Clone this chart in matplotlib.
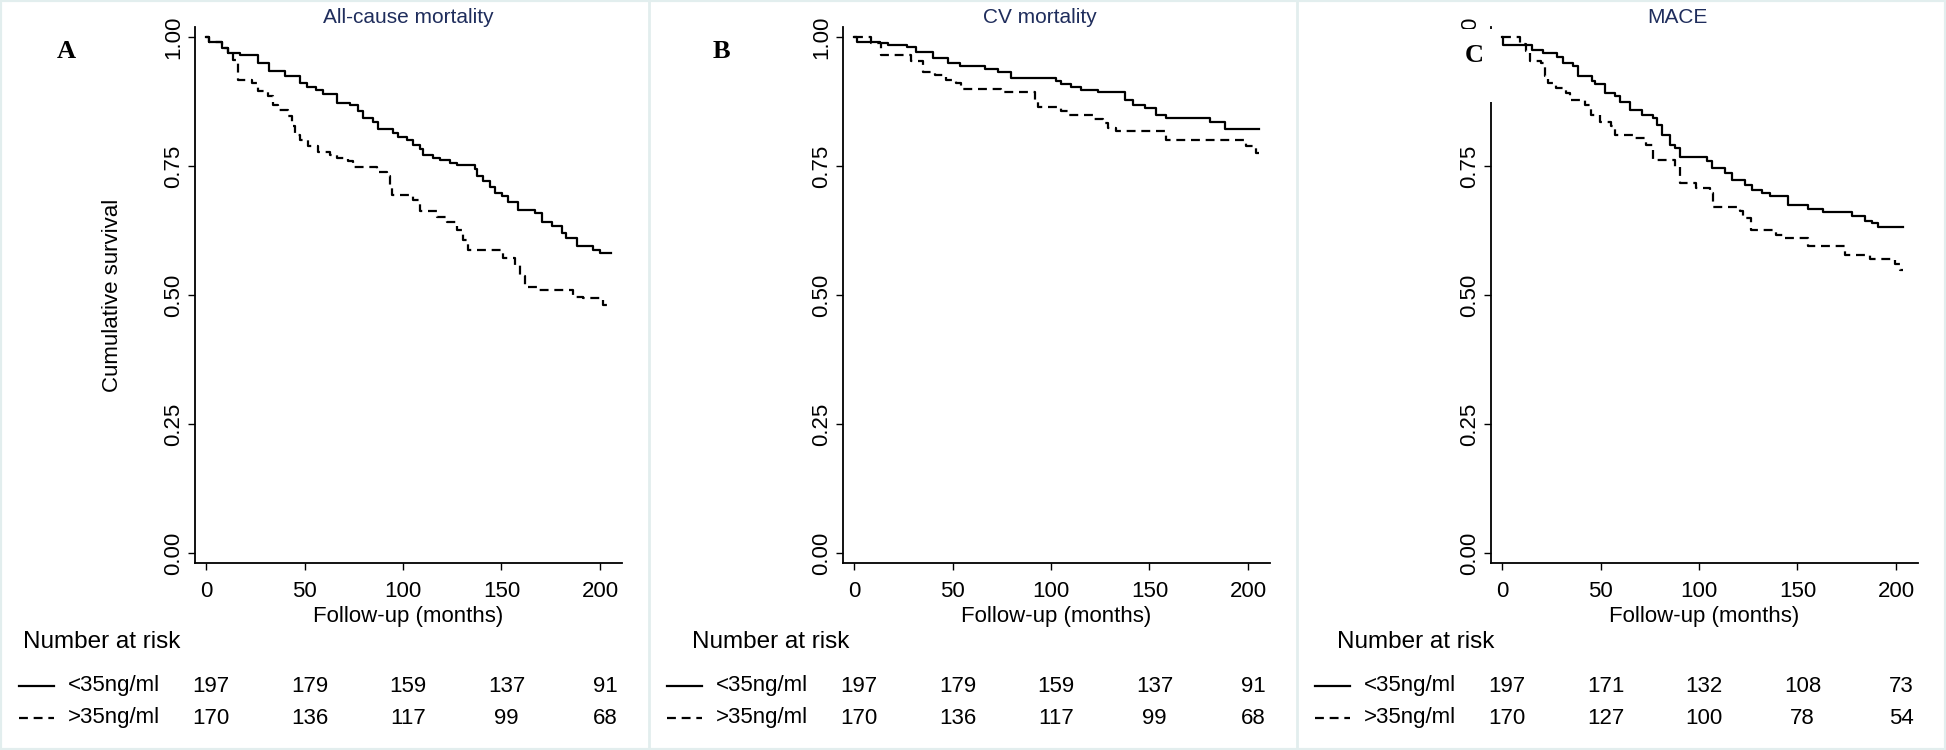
"""
Kaplan-Meier 3 panel figure (All-cause / CV mortality / MACE) with number-at-risk table
"""

import matplotlib.pyplot as plt
from matplotlib.lines import Line2D
from matplotlib.patches import Rectangle

plt.rcParams['font.family'] = ['Liberation Sans', 'DejaVu Sans']

# ----- data -----
TITLES = ["All-cause mortality", "CV mortality", "MACE"]
LETTERS = ["A", "B", "C"]
GROUPS = ["<35ng/ml", ">35ng/ml"]
X_TICKS = [0, 50, 100, 150, 200]
Y_TICKS = [0.0, 0.25, 0.5, 0.75, 1.0]
Y_TICK_LABELS = ["0.00", "0.25", "0.50", "0.75", "1.00"]

A_LOW_T = [0, 1.7, 8, 11.3, 17, 26.5, 32, 40, 47.7, 51.4, 56, 59.6, 66.3, 73, 77.3,
           79.9, 85, 87.5, 95, 97.6, 101.9, 105.2, 108.6, 110.3, 115.4, 118.8, 123.9,
           127.2, 136.5, 137.4, 140.8, 144.2, 146.7, 150.1, 153.5, 158.5, 167, 170.4,
           175.5, 180.5, 183, 188.2, 196.6, 200, 205.4]
A_LOW_S = [1.0, .990, .979, .969, .966, .950, .935, .924, .911, .904, .898, .889, .873,
           .869, .856, .843, .836, .822, .814, .807, .801, .791, .783, .772, .766, .761,
           .755, .752, .744, .730, .720, .710, .697, .691, .681, .665, .658, .642, .633,
           .620, .610, .594, .587, .581, .581]
A_HIGH_T = [0, 1.7, 8, 11.3, 13.9, 16.4, 23.2, 26.6, 31.6, 34.2, 36.7, 41.8, 43.5, 45.2,
            47.7, 51.9, 57, 62.9, 66.3, 72.2, 74.8, 86.6, 91.7, 93.4, 94.2, 105.2, 108.6,
            117.1, 122.2, 127.2, 130.6, 133.2, 150.9, 156.9, 159.4, 162, 167.9, 186.5,
            191.5, 201.7, 203.4]
A_HIGH_S = [1.0, .990, .979, .969, .955, .917, .911, .895, .885, .869, .859, .846, .827,
            .810, .801, .788, .778, .772, .765, .759, .749, .739, .730, .710, .694, .684,
            .662, .652, .642, .626, .607, .587, .571, .558, .536, .516, .510, .497, .494,
            .481, .481]

B_LOW_T = [0, 1.7, 13, 17.3, 27.1, 31.6, 40.1, 47.7, 53.6, 66.3, 73.1, 79.9, 102.7, 105.2,
           110.3, 115.4, 123.9, 137.4, 141.6, 147.5, 153.5, 158.5, 180.5, 188.2, 205.4]
B_LOW_S = [1.0, .990, .988, .985, .981, .970, .959, .950, .944, .938, .933, .920, .914,
           .908, .903, .898, .893, .877, .869, .862, .848, .843, .835, .821, .821]
B_HIGH_T = [0, 8.8, 13.9, 29.1, 35, 41, 46.9, 52, 54.5, 74.8, 91.7, 93.4, 105.2, 108.6,
            121.3, 126.4, 128.9, 133.2, 158.5, 199.2, 204.2, 205.4]
B_HIGH_S = [1.0, .988, .966, .953, .933, .927, .917, .911, .899, .893, .878, .864, .856,
            .849, .841, .833, .823, .817, .801, .788, .775, .775]

C_LOW_T = [0, 0.3, 15.1, 21, 27.8, 30.8, 36.2, 38.7, 45.5, 47.2, 52.2, 57.3, 59.9, 65,
           70.9, 76.8, 78.5, 81.1, 85.3, 87.8, 90.4, 103.9, 106.4, 113.2, 116.6, 123.4,
           126.7, 131.8, 136, 145.3, 155.5, 163.1, 177.5, 184.3, 187.7, 191.1, 203.7]
C_LOW_S = [1.0, .985, .975, .969, .962, .950, .943, .924, .914, .908, .891, .885, .875,
           .859, .849, .843, .830, .810, .791, .785, .768, .759, .746, .736, .722, .713,
           .704, .697, .692, .675, .666, .660, .653, .644, .639, .631, .631]
C_HIGH_T = [0, 9, 12.4, 14.1, 20, 21.7, 23.4, 27.6, 32.7, 34.4, 42, 45.4, 49.6, 55.5,
            57.2, 66.5, 73.3, 76.6, 87.6, 90.2, 98.6, 105.4, 107.1, 120.6, 122.3, 126.5,
            139.2, 142.6, 155.3, 173.9, 186.6, 199.3, 201.9, 203.7]
C_HIGH_S = [1.0, .987, .972, .953, .950, .924, .911, .901, .891, .878, .869, .849, .836,
            .827, .810, .804, .791, .762, .749, .717, .707, .697, .671, .662, .649, .626,
            .616, .610, .595, .578, .569, .561, .549, .549]

RISK_TIMES = [0, 50, 100, 150, 200]
A_RISK_LOW = [197, 179, 159, 137, 91]
A_RISK_HIGH = [170, 136, 117, 99, 68]
B_RISK_LOW = [197, 179, 159, 137, 91]
B_RISK_HIGH = [170, 136, 117, 99, 68]
C_RISK_LOW = [197, 171, 132, 108, 73]
C_RISK_HIGH = [170, 127, 100, 78, 54]

# ----- layout (pixels of the 1946x750 canvas) -----
W, H = 1946, 750
PANEL_LEFT = [195, 843, 1491]
AX_TOP, AX_BOTTOM, AX_W = 27, 563, 427
XLIM = (-5.6, 211.2)
YLIM = (-0.0194, 1.0194)
NAR_DX = [-172, -151, -154]
TITLE_X = [0.5, 0.462, 0.437]
FS = 16
TITLE_COLOR = "#1f2d5c"
FRAME_COLOR = "#e2eeee"
DASH = (0, (4, 2.6))
OUT_PATH = "out.png"


def offset_text(ax, x, y, s, dx, dy, xcoords="axes fraction", fontsize=FS, **kw):
    """axes 기준점에서 pixel offset으로 text 배치"""
    ax.annotate(s, xy=(x, y), xycoords=(xcoords, "axes fraction"),
                xytext=(dx, dy), textcoords="offset pixels",
                fontsize=fontsize, annotation_clip=False, **kw)


def draw_panel(fig, i, curves, risks):
    left = PANEL_LEFT[i]
    ax = fig.add_axes([left / W, (H - AX_BOTTOM) / H, AX_W / W, (AX_BOTTOM - AX_TOP) / H])

    for (t, s), ls in zip(curves, ["-", DASH]):
        ax.step(t, s, where="post", color="black", linewidth=1.6, linestyle=ls)

    ax.set_xlim(*XLIM)
    ax.set_ylim(*YLIM)
    ax.set_xticks(X_TICKS)
    ax.set_yticks(Y_TICKS)
    ax.set_yticklabels(Y_TICK_LABELS)
    for side in ["top", "right"]:
        ax.spines[side].set_visible(False)
    for side in ["left", "bottom"]:
        ax.spines[side].set_linewidth(1.3)
    ax.tick_params(axis="both", direction="out", length=5, width=1, labelsize=FS)
    ax.tick_params(axis="x", pad=8)
    ax.tick_params(axis="y", pad=3, labelrotation=90)
    for lab in ax.get_yticklabels():
        lab.set_va("center")

    ax.set_xlabel("Follow-up (months)", fontsize=FS, labelpad=3)
    if i == 0:
        ax.set_ylabel("Cumulative survival", fontsize=FS, labelpad=29)
    title = ax.set_title(TITLES[i], fontsize=15, color=TITLE_COLOR, pad=2)
    title.set_x(TITLE_X[i])

    # number at risk table
    offset_text(ax, 0, 0, "Number at risk", NAR_DX[i], -79, fontsize=17.5,
                va="center", ha="left")
    for row, (grp, counts, ls) in enumerate(zip(GROUPS, risks, ["-", DASH])):
        dy = -123 - 32 * row
        y_fig = (H - (AX_BOTTOM - dy)) / H
        fig.add_artist(Line2D([(left - 176) / W, (left - 141) / W], [y_fig, y_fig],
                              color="black", linewidth=1.6, linestyle=ls))
        offset_text(ax, 0, 0, grp, -127, dy, va="center", ha="left")
        for t, n in zip(RISK_TIMES, counts):
            offset_text(ax, t, 0, str(n), 5, dy, xcoords="data", va="center", ha="center")

    return ax


def main():
    fig = plt.figure(figsize=(W / 100, H / 100), dpi=100)

    curves = [
        [(A_LOW_T, A_LOW_S), (A_HIGH_T, A_HIGH_S)],
        [(B_LOW_T, B_LOW_S), (B_HIGH_T, B_HIGH_S)],
        [(C_LOW_T, C_LOW_S), (C_HIGH_T, C_HIGH_S)],
    ]
    risks = [
        (A_RISK_LOW, A_RISK_HIGH),
        (B_RISK_LOW, B_RISK_HIGH),
        (C_RISK_LOW, C_RISK_HIGH),
    ]
    for i in range(3):
        draw_panel(fig, i, curves[i], risks[i])

    # panel C: the letter box hides the top of the y axis
    fig.add_artist(Rectangle((1450 / W, 1 - 102 / H), 47 / W, 73 / H,
                             transform=fig.transFigure, facecolor="white",
                             edgecolor="none", zorder=10))
    letter_pos = [(66, 52), (721, 52), (1474, 56)]
    for letter, (x, y) in zip(LETTERS, letter_pos):
        fig.text(x / W, 1 - y / H, letter, fontsize=19, fontweight="bold",
                 family=["Liberation Serif", "DejaVu Serif"], ha="center", va="center",
                 zorder=11)

    # light frame and panel dividers
    for x in [649, 1297]:
        fig.add_artist(Line2D([x / W, x / W], [0, 1], color=FRAME_COLOR, linewidth=2))
    fig.add_artist(Rectangle((0, 0), 1, 1, transform=fig.transFigure, fill=False,
                             edgecolor=FRAME_COLOR, linewidth=3))

    fig.savefig(OUT_PATH, dpi=100)
    plt.close(fig)


if __name__ == "__main__":
    main()
